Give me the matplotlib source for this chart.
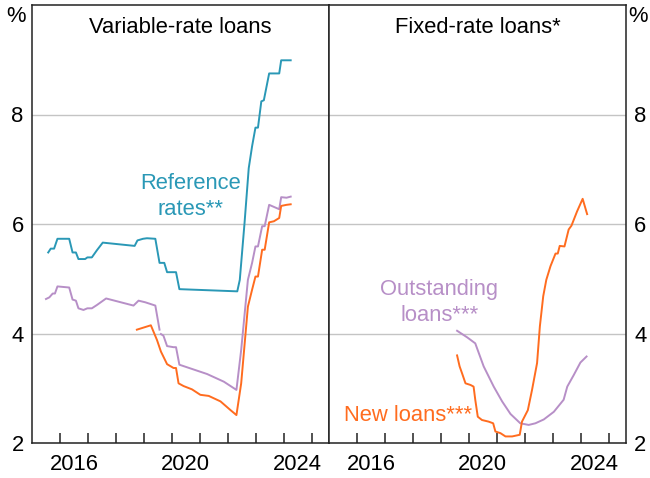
import numpy as np
from matplotlib import pyplot as plt

plt.rcParams['font.family'] = ['Liberation Sans', 'DejaVu Sans']

BLUE = '#2a98b6'
ORANGE = '#ff6c1f'
PURPLE = '#b78fc7'

# variable-rate loans: reference rates
ref_t = [2015.58, 2015.67, 2015.79, 2015.91, 2016.33, 2016.45, 2016.57, 2016.66, 2016.90, 2016.98,
         2017.14, 2017.32, 2017.53, 2018.67, 2018.77, 2018.97, 2019.11, 2019.41, 2019.56, 2019.73,
         2019.83, 2020.15, 2020.27, 2022.34, 2022.43, 2022.60, 2022.75, 2022.87, 2022.99, 2023.08,
         2023.20, 2023.29, 2023.48, 2023.84, 2023.91, 2024.25]
ref_v = [5.48, 5.55, 5.55, 5.73, 5.73, 5.48, 5.48, 5.36, 5.36, 5.39,
         5.39, 5.52, 5.66, 5.60, 5.70, 5.73, 5.74, 5.73, 5.29, 5.29,
         5.12, 5.12, 4.81, 4.77, 4.98, 6.02, 7.02, 7.42, 7.76, 7.76,
         8.24, 8.26, 8.75, 8.75, 8.99, 8.99]

# variable-rate loans: outstanding (series break in 2019)
var_out_t = [2015.50, 2015.62, 2015.74, 2015.82, 2015.91, 2016.33, 2016.45, 2016.57, 2016.66, 2016.84,
             2016.98, 2017.14, 2017.32, 2017.65, 2018.63, 2018.81, 2019.05, 2019.41, 2019.56, 2019.585,
             2019.61, 2019.70, 2019.83, 2020.06, 2020.15, 2020.27, 2021.26, 2021.86, 2022.31, 2022.48,
             2022.72, 2022.87, 2022.99, 2023.08, 2023.23, 2023.32, 2023.48, 2023.84, 2023.91, 2024.10,
             2024.25]
var_out_v = [4.63, 4.66, 4.73, 4.73, 4.86, 4.84, 4.62, 4.60, 4.46, 4.43,
             4.46, 4.46, 4.52, 4.64, 4.51, 4.60, 4.57, 4.51, 4.07, np.nan,
             3.99, 3.96, 3.77, 3.75, 3.75, 3.43, 3.26, 3.12, 2.97, 3.70,
             4.98, 5.29, 5.59, 5.59, 5.96, 5.96, 6.35, 6.27, 6.49, 6.48,
             6.50]

# variable-rate loans: new
var_new_t = [2018.75, 2019.25, 2019.47, 2019.61, 2019.83, 2020.06, 2020.15, 2020.24, 2020.42, 2020.72,
             2021.02, 2021.32, 2021.74, 2022.10, 2022.31, 2022.48, 2022.72, 2022.87, 2022.99, 2023.08,
             2023.23, 2023.32, 2023.48, 2023.65, 2023.84, 2023.91, 2024.10, 2024.25]
var_new_v = [4.07, 4.15, 3.88, 3.67, 3.44, 3.37, 3.37, 3.09, 3.04, 2.98,
             2.88, 2.86, 2.76, 2.60, 2.51, 3.09, 4.49, 4.80, 5.04, 5.04,
             5.53, 5.53, 6.03, 6.05, 6.11, 6.33, 6.35, 6.36]

# fixed-rate loans: outstanding
fix_out_t = [2019.58, 2019.94, 2020.23, 2020.53, 2020.89, 2021.19, 2021.49, 2021.84, 2022.14, 2022.38,
             2022.68, 2023.04, 2023.39, 2023.52, 2023.75, 2023.99, 2024.21]
fix_out_v = [4.05, 3.93, 3.82, 3.40, 3.03, 2.76, 2.53, 2.36, 2.33, 2.36,
             2.43, 2.57, 2.79, 3.03, 3.24, 3.47, 3.58]

# fixed-rate loans: new
fix_new_t = [2019.58, 2019.67, 2019.76, 2019.88, 2020.06, 2020.17, 2020.23, 2020.32, 2020.47, 2020.71,
             2020.87, 2020.95, 2021.13, 2021.31, 2021.55, 2021.82, 2021.90, 2022.11, 2022.26, 2022.44,
             2022.54, 2022.66, 2022.77, 2022.92, 2023.10, 2023.18, 2023.25, 2023.42, 2023.57, 2023.67,
             2023.87, 2024.07, 2024.23]
fix_new_v = [3.60, 3.40, 3.27, 3.09, 3.06, 3.03, 2.79, 2.48, 2.42, 2.39,
             2.36, 2.21, 2.18, 2.12, 2.12, 2.15, 2.39, 2.60, 2.97, 3.46,
             4.13, 4.68, 4.98, 5.23, 5.46, 5.46, 5.60, 5.59, 5.90, 5.97,
             6.23, 6.46, 6.18]

year_ticks = list(range(2016, 2026))
label_years = [2016, 2020, 2024]

fig = plt.figure(figsize=(6.5, 4.78), dpi=100)
ax1 = fig.add_axes([32 / 650, 1 - 443 / 478, 297 / 650, 438 / 478])
ax2 = fig.add_axes([329 / 650, 1 - 443 / 478, 297 / 650, 438 / 478])

FS = 15.8
for ax in (ax1, ax2):
    ax.set_xlim(2015.0, 2025.62)
    ax.set_ylim(2, 10)
    for s in ax.spines.values():
        s.set_linewidth(1.1)
        s.set_color('#222222')
    ax.set_yticks([2, 4, 6, 8])
    ax.set_xticks([y + 0.5 for y in label_years])
    ax.set_xticklabels([str(y) for y in label_years])
    ax.set_xticks(year_ticks, minor=True)
    ax.tick_params(axis='x', which='major', length=0, pad=8, labelsize=FS)
    ax.tick_params(axis='x', which='minor', direction='in', length=7, width=1.1, color='#222222')
    ax.tick_params(axis='y', length=0, labelsize=FS, pad=6)
    for g in [4, 6, 8]:
        ax.axhline(g, color='#c4c4c4', lw=1.0, zorder=0)

ax2.yaxis.tick_right()
ax2.tick_params(axis='y', labelleft=False, labelright=True)

ax1.plot(ref_t, ref_v, color=BLUE, lw=1.4)
ax1.plot(var_out_t, var_out_v, color=PURPLE, lw=1.4)
ax1.plot(var_new_t, var_new_v, color=ORANGE, lw=1.4)

ax2.plot(fix_out_t, fix_out_v, color=PURPLE, lw=1.4)
ax2.plot(fix_new_t, fix_new_v, color=ORANGE, lw=1.4)

ax1.text(0.5, 0.948, 'Variable-rate loans', transform=ax1.transAxes, ha='center', va='center', fontsize=FS)
ax2.text(0.5, 0.948, 'Fixed-rate loans*', transform=ax2.transAxes, ha='center', va='center', fontsize=FS)

ax1.text(2020.66, 6.5, 'Reference\nrates**', color=BLUE, ha='center', va='center', fontsize=FS,
         linespacing=1.3)
ax2.text(2018.95, 4.57, 'Outstanding\nloans***', color=PURPLE, ha='center', va='center', fontsize=FS,
         linespacing=1.3)
ax2.text(2017.84, 2.5, 'New loans***', color=ORANGE, ha='center', va='center', fontsize=FS)

fig.text(16 / 650, 1 - 16 / 478, '%', ha='center', va='center', fontsize=FS)
fig.text(638 / 650, 1 - 16 / 478, '%', ha='center', va='center', fontsize=FS)

fig.savefig('out.png', dpi=100)
